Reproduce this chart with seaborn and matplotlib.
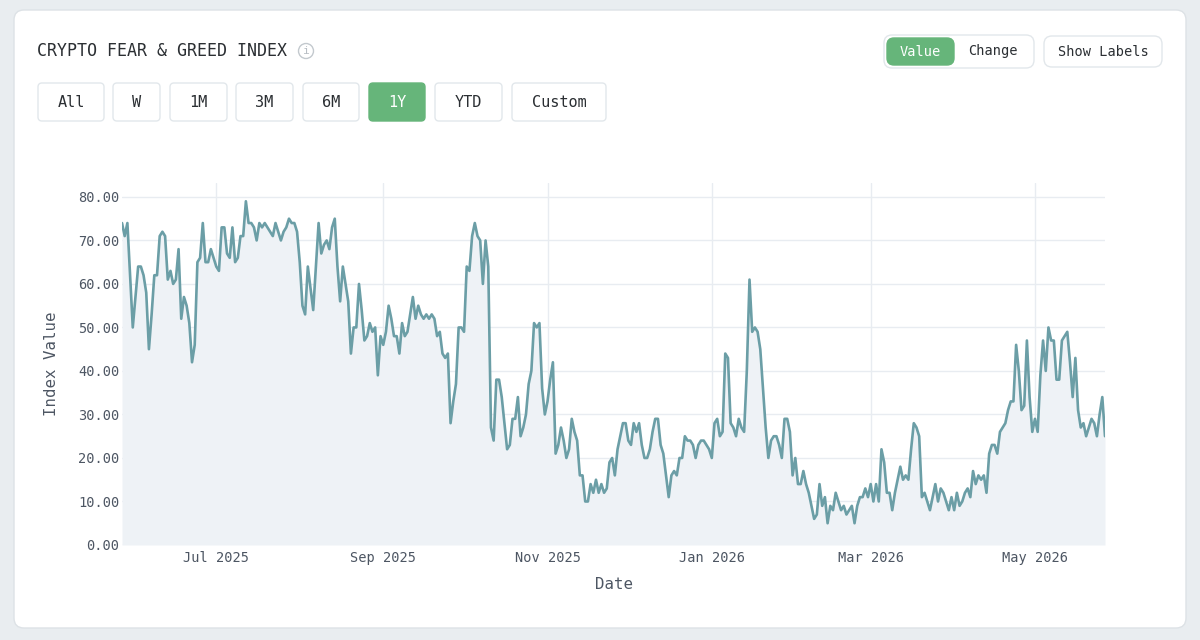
# Crypto Fear & Greed Index - 1Y view, recreated with seaborn

import pandas as pd
import matplotlib
matplotlib.use("Agg")
import matplotlib.pyplot as plt
import matplotlib.dates as mdates
from matplotlib.ticker import FormatStrFormatter
from matplotlib.patches import FancyBboxPatch, Circle
import seaborn as sns

# -------------------------------
# Data (daily index values)
# -------------------------------
START_DATE = "2025-05-27"

vals_jun_jul = [74, 71, 74, 62, 50, 57, 64, 64, 62, 58, 45, 53, 62, 62, 71, 72,
                71, 61, 63, 60, 61, 68, 52, 57, 55, 51, 42, 46, 65, 66, 74, 65,
                65, 68, 66, 64, 63, 73, 73, 67, 66, 73, 65, 66, 71, 71, 79, 74,
                74, 73, 70, 74, 73, 74, 73, 72, 71, 74, 72, 70, 72, 73, 75]
vals_aug_sep = [74, 74, 72, 65, 55, 53, 64, 59, 54, 64, 74, 67, 69, 70, 68, 73,
                75, 64, 56, 64, 60, 56, 44, 50, 50, 60, 54, 47, 48, 51, 49, 50,
                39, 48, 46, 49, 55, 52, 48, 48, 44, 51, 48, 49, 53, 57, 52, 55,
                53, 52, 53, 52, 53, 52, 48, 49, 44, 43, 44]
vals_oct_nov = [28, 33, 37, 50, 50, 49, 64, 63, 71, 74, 71, 70, 60, 70, 64, 27,
                24, 38, 38, 34, 28, 22, 23, 29, 29, 34, 25, 27, 30, 37, 40, 51,
                50, 51, 36, 30, 33, 38, 42, 21, 23, 27, 24, 20, 22, 29, 26, 24,
                16, 16, 10, 10, 14, 12, 15, 12, 14, 12, 13, 19, 20, 16]
vals_dec_jan = [22, 25, 28, 28, 24, 23, 28, 26, 28, 23, 20, 20, 22, 26, 29, 29,
                23, 21, 16, 11, 16, 17, 16, 20, 20, 25, 24, 24, 23, 20, 23, 24,
                24, 23, 22, 20, 28, 29, 25, 26, 44, 43, 28, 27, 25, 29, 27, 26,
                40, 61, 49, 50, 49, 45, 36, 27, 20, 24, 25, 25, 23]
vals_feb_mar = [20, 29, 29, 26, 16, 20, 14, 14, 17, 14, 12, 9, 6, 7, 14, 9,
                11, 5, 9, 8, 12, 10, 8, 9, 7, 8, 9, 5, 9, 11, 11, 13,
                11, 14, 10, 14, 10, 22, 19, 12, 12, 8, 12, 15, 18, 15, 16, 15,
                22, 28, 27, 25, 11, 12, 10, 8, 11, 14, 10, 13, 12]
vals_apr_may = [10, 8, 11, 8, 12, 9, 10, 12, 13, 11, 17, 14, 16, 15, 16, 12,
                21, 23, 23, 21, 26, 27, 28, 31, 33, 33, 46, 40, 31, 32, 47, 34,
                26, 29, 26, 39, 47, 40, 50, 47, 47, 38, 38, 47, 48, 49, 42, 34,
                43, 31, 27, 28, 25, 27, 29, 28, 25, 30, 34, 25]

y_ticks = [0, 10, 20, 30, 40, 50, 60, 70, 80]
tick_months = [1, 3, 5, 7, 9, 11]

title_text = "CRYPTO FEAR & GREED INDEX"
range_buttons = ["All", "W", "1M", "3M", "6M", "1Y", "YTD", "Custom"]
active_button = "1Y"

# -------------------------------
# Layout / style (pixels on a 1200x640 canvas)
# -------------------------------
BTN_X = [(38, 104), (113, 160), (170, 227), (236, 293), (303, 359),
         (369, 425), (435, 502), (512, 606)]
GREEN = "#66b57a"
BORDER = "#e2e7eb"
TEXT = "#2b2f33"
AXIS_TXT = "#4d5663"
LINE = "#6b9ea6"
FILL = "#eef2f6"
GRID = "#e8ecf1"


def build_frame() -> pd.DataFrame:
    values = (vals_jun_jul + vals_aug_sep + vals_oct_nov +
              vals_dec_jan + vals_feb_mar + vals_apr_may)
    dates = pd.date_range(START_DATE, periods=len(values), freq="D")
    return pd.DataFrame({"date": dates, "value": values})


def box(ax, x, y, w, h, fc, ec=BORDER, r=5, lw=1.0):
    ax.add_patch(FancyBboxPatch((x, y), w, h,
                                boxstyle=f"round,pad=0,rounding_size={r}",
                                fc=fc, ec=ec, lw=lw))


def draw_chrome(fig):
    bg = fig.add_axes([0, 0, 1, 1], zorder=0)
    bg.set_xlim(0, 1200)
    bg.set_ylim(640, 0)
    bg.axis("off")

    # card
    box(bg, 14, 10, 1172, 618, "white", ec="#dde2e6", r=10)

    # title + info icon
    bg.text(37, 51, title_text, fontsize=12, color=TEXT, ha="left", va="center")
    bg.add_patch(Circle((306, 51), 7.5, fill=False, ec="#c3c9ce", lw=1))
    bg.text(306, 51.5, "i", fontsize=8, color="#b8bec4", ha="center", va="center")

    # range buttons
    for label, (x0, x1) in zip(range_buttons, BTN_X):
        active = label == active_button
        box(bg, x0, 83, x1 - x0, 38, GREEN if active else "white",
            ec=GREEN if active else BORDER, r=4)
        bg.text((x0 + x1) / 2, 102.5, label, fontsize=11,
                color="white" if active else TEXT, ha="center", va="center")

    # value / change toggle
    box(bg, 884, 35, 150, 33, "white", r=8)
    box(bg, 887, 38, 67, 27, GREEN, ec=GREEN, r=7)
    bg.text(920.5, 51.5, "Value", fontsize=9.8, color="white", ha="center", va="center")
    bg.text(993, 51.5, "Change", fontsize=9.8, color=TEXT, ha="center", va="center")

    # show labels
    box(bg, 1044, 36, 118, 31, "white", r=8)
    bg.text(1103, 51.5, "Show Labels", fontsize=9.8, color=TEXT, ha="center", va="center")


def plot_index(fig, df: pd.DataFrame):
    ax = fig.add_axes([122 / 1200, 1 - 545 / 640, 983 / 1200, 362 / 640], zorder=1)
    ax.set_facecolor("none")

    ax.fill_between(df["date"], df["value"], 0, color=FILL, lw=0, zorder=1)
    sns.lineplot(data=df, x="date", y="value", ax=ax, color=LINE,
                 linewidth=1.9, zorder=3)

    ax.set_xlim(df["date"].iloc[0], df["date"].iloc[-1])
    ax.set_ylim(0, 83.2)
    ax.set_yticks(y_ticks)
    ax.yaxis.set_major_formatter(FormatStrFormatter("%.2f"))
    ax.xaxis.set_major_locator(mdates.MonthLocator(bymonth=tick_months))
    ax.xaxis.set_major_formatter(mdates.DateFormatter("%b %Y"))

    ax.grid(True, color=GRID, lw=1, zorder=0)
    ax.set_axisbelow(True)
    ax.tick_params(axis="both", length=0, labelsize=9.8, colors=AXIS_TXT)
    ax.tick_params(axis="x", pad=4)
    ax.tick_params(axis="y", pad=2)
    for s in ax.spines.values():
        s.set_visible(False)

    ax.set_xlabel("Date", fontsize=11.3, color=AXIS_TXT)
    ax.xaxis.set_label_coords(0.5, -0.088)
    ax.set_ylabel("Index Value", fontsize=11.3, color=AXIS_TXT)
    ax.yaxis.set_label_coords(-0.064, 0.5)
    return ax


def main():
    sns.set_theme(style="white")
    plt.rcParams["font.family"] = ["DejaVu Sans Mono", "DejaVu Sans"]

    df = build_frame()
    fig = plt.figure(figsize=(12, 6.4), dpi=100)
    fig.patch.set_facecolor("#e9edf0")

    draw_chrome(fig)
    plot_index(fig, df)

    fig.savefig("out.png", dpi=100, facecolor=fig.get_facecolor())


if __name__ == "__main__":
    main()
